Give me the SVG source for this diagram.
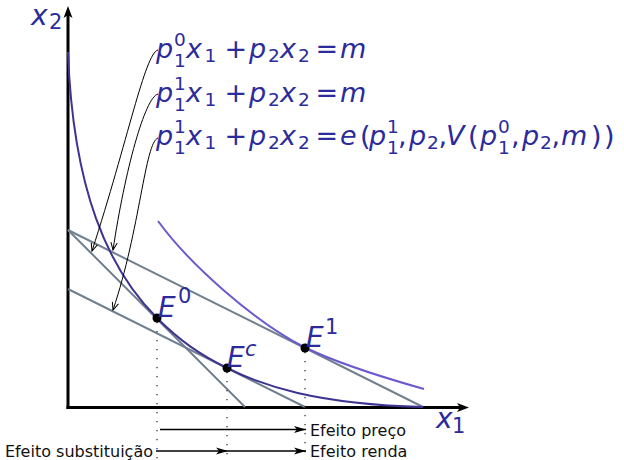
<svg xmlns="http://www.w3.org/2000/svg" width="624" height="460" viewBox="0 0 624 460">
<defs>
<style>
.m{font-family:"DejaVu Sans",sans-serif;fill:#2b2b9b}
.i{font-style:italic}
.f{font-size:27px}
.s{font-size:18.5px}
.E{font-size:28px}
.Es{font-size:21px}
.X{font-size:28px}
.lbl{font-family:"DejaVu Sans",sans-serif;font-size:16px;fill:#111}
.budget{fill:none;stroke:#708090;stroke-width:2}
.dot{fill:none;stroke:#222;stroke-width:1.2;stroke-dasharray:1.2 7.8}
.lead{fill:none;stroke:#000;stroke-width:1;marker-end:url(#open)}
.eff{fill:none;stroke:#000;stroke-width:1.6;marker-end:url(#filled)}
</style>
<marker id="open" markerWidth="12" markerHeight="12" refX="9" refY="5" orient="auto" markerUnits="userSpaceOnUse" overflow="visible">
<path d="M1.5,1.8 L9,5 L1.5,8.2" fill="none" stroke="#000" stroke-width="1"/>
</marker>
<marker id="filled" markerWidth="14" markerHeight="10" refX="12" refY="4" orient="auto" markerUnits="userSpaceOnUse" overflow="visible">
<path d="M0,0.5 L12,4 L0,7.5 L3,4 Z" fill="#000"/>
</marker>
</defs>
<rect width="624" height="460" fill="#fff"/>

<g id="axes">
<line x1="68" y1="409" x2="68" y2="12" stroke="#000" stroke-width="3"/>
<path d="M68,6 L63.5,18 L68,15 L72.5,18 Z" fill="#000"/>
<line x1="66.5" y1="407.5" x2="462" y2="407.5" stroke="#000" stroke-width="3"/>
<path d="M469,407.5 L457,403 L460,407.5 L457,412 Z" fill="#000"/>
<text class="m i X" x="31" y="25">x</text><text class="m Es" x="49" y="29">2</text>
<text class="m i X" x="436" y="428">x</text><text class="m Es" x="452" y="433">1</text>
</g>

<g id="budget-lines">
<line class="budget" x1="68" y1="230" x2="245" y2="407"/>
<line class="budget" x1="68" y1="230" x2="423" y2="407"/>
<line class="budget" x1="68" y1="289" x2="305" y2="407"/>
</g>

<g id="indifference-curves">
<path id="U0" d="M68,52 C73,190 108,269 157,318 C180,341 200,354.5 227,368 C262,385.5 315,404 423,407" fill="none" stroke="#3d3391" stroke-width="2"/>
<path id="U1" d="M158,221 C190,265 255,322 305,347.5 C335,362 385,378 424,389" fill="none" stroke="#6a5acd" stroke-width="2"/>
</g>

<g id="connectors">
<path class="lead" d="M158,50 C145,53 128,140 92,251"/>
<path class="lead" d="M158,94 C145,97 125,170 113,250"/>
<path class="lead" d="M158,138 C145,142 140,230 113,310"/>
<line class="dot" x1="157" y1="322" x2="157" y2="460"/>
<line class="dot" x1="227" y1="372" x2="227" y2="460"/>
<line class="dot" x1="305" y1="352" x2="305" y2="460"/>
<line class="eff" x1="160" y1="429.5" x2="306" y2="429.5"/>
<line class="eff" x1="156" y1="451" x2="228" y2="451"/>
<line class="eff" x1="228" y1="451" x2="306" y2="451"/>
</g>

<g id="eq1">
<text class="m f" y="58"><tspan class="i" x="156">p</tspan><tspan x="186" class="i">x</tspan><tspan x="224.5">+</tspan><tspan class="i" x="249">p</tspan><tspan class="i" x="280">x</tspan><tspan x="315.5">=</tspan><tspan class="i" x="340">m</tspan></text>
<text class="m s"><tspan x="174" y="46">0</tspan><tspan x="174" y="67">1</tspan><tspan x="204.5" y="62">1</tspan><tspan x="268" y="62">2</tspan><tspan x="298" y="62">2</tspan></text>
</g>
<g id="eq2">
<text class="m f" y="101.5"><tspan class="i" x="156">p</tspan><tspan x="186" class="i">x</tspan><tspan x="224.5">+</tspan><tspan class="i" x="249">p</tspan><tspan class="i" x="280">x</tspan><tspan x="315.5">=</tspan><tspan class="i" x="340">m</tspan></text>
<text class="m s"><tspan x="174" y="89.5">1</tspan><tspan x="174" y="110.5">1</tspan><tspan x="204.5" y="105.5">1</tspan><tspan x="268" y="105.5">2</tspan><tspan x="298" y="105.5">2</tspan></text>
</g>
<g id="eq3">
<text class="m f" y="145"><tspan class="i" x="156">p</tspan><tspan x="186" class="i">x</tspan><tspan x="224.5">+</tspan><tspan class="i" x="249">p</tspan><tspan class="i" x="280">x</tspan><tspan x="315.5">=</tspan><tspan class="i" x="340">e</tspan><tspan x="360">(</tspan><tspan class="i" x="369">p</tspan><tspan x="398">,</tspan><tspan class="i" x="409">p</tspan><tspan x="438.5">,</tspan><tspan class="i" x="446">V</tspan><tspan x="468">(</tspan><tspan class="i" x="480">p</tspan><tspan x="511">,</tspan><tspan class="i" x="522">p</tspan><tspan x="551.5">,</tspan><tspan class="i" x="561">m</tspan><tspan x="591">)</tspan><tspan x="604">)</tspan></text>
<text class="m s"><tspan x="387" y="133">1</tspan><tspan x="387" y="154">1</tspan><tspan x="427" y="149">2</tspan><tspan x="498" y="133">0</tspan><tspan x="498" y="154">1</tspan><tspan x="540" y="149">2</tspan><tspan x="174" y="133">1</tspan><tspan x="174" y="154">1</tspan><tspan x="204.5" y="149">1</tspan><tspan x="268" y="149">2</tspan><tspan x="298" y="149">2</tspan></text>
</g>

<g id="E0">
<circle cx="157" cy="318" r="4.5" fill="#000"/>
<text class="m i E" x="158" y="317">E</text><text class="m Es" x="178" y="303">0</text>
</g>
<g id="Ec">
<circle cx="227" cy="368" r="4.5" fill="#000"/>
<text class="m i E" x="227" y="367">E</text><text class="m i Es" x="245" y="356">c</text>
</g>
<g id="E1">
<circle cx="305" cy="348" r="4.5" fill="#000"/>
<text class="m i E" x="306" y="347">E</text><text class="m Es" x="325" y="334">1</text>
</g>

<g id="labels">
<text class="lbl" x="310" y="436">Efeito preço</text>
<text class="lbl" x="310" y="457">Efeito renda</text>
<text class="lbl" x="153" y="457" text-anchor="end">Efeito substituição</text>
</g>
</svg>
